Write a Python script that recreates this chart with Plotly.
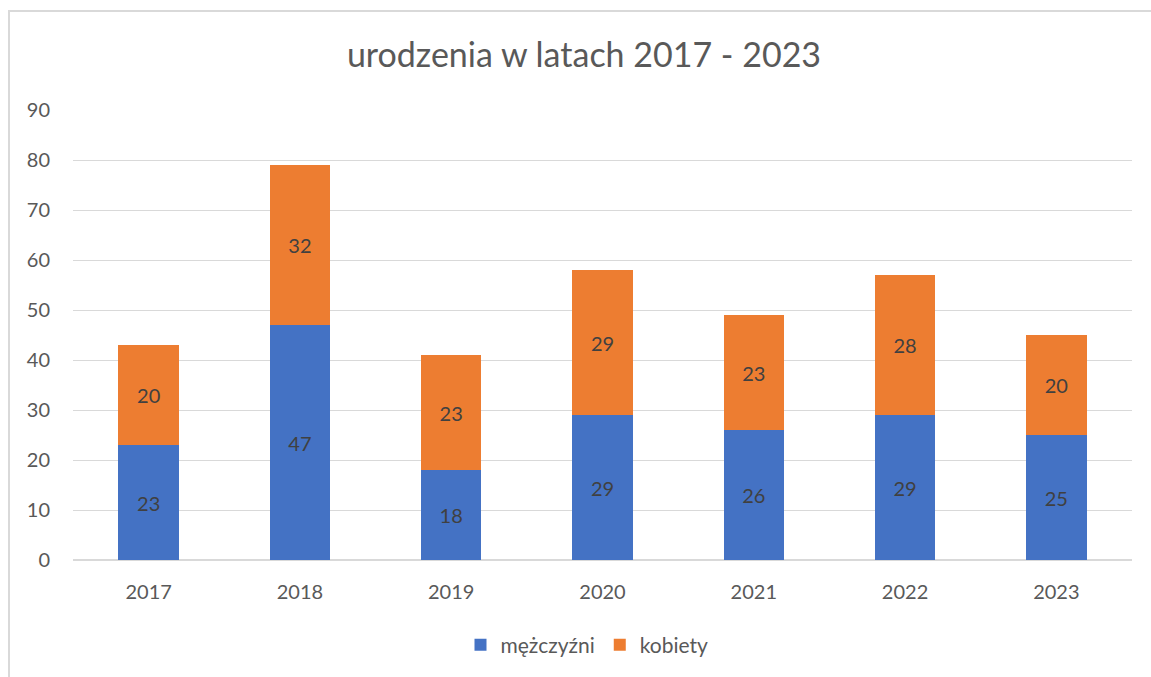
import plotly.graph_objects as go

years = ["2017", "2018", "2019", "2020", "2021", "2022", "2023"]
mezczyzni = [23, 47, 18, 29, 26, 29, 25]
kobiety = [20, 32, 23, 29, 23, 28, 20]
y_ticks = [0, 10, 20, 30, 40, 50, 60, 70, 80, 90]

FONT = "Lato, Calibri, sans-serif"
W, H = 1151, 677
L, R, T, B = 73, 19, 110, 117
pw = W - L - R
ph = H - T - B

def px_x(x):
    return (x - L) / pw

def px_y(y):
    return (H - B - y) / ph

fig = go.Figure()
fig.add_trace(go.Bar(
    x=years, y=mezczyzni, name="mężczyźni",
    marker=dict(color="#4472C4", line=dict(width=0)),
    text=mezczyzni, textposition="inside", insidetextanchor="middle",
    textangle=0, textfont=dict(size=20, color="#404040", family=FONT),
))
fig.add_trace(go.Bar(
    x=years, y=kobiety, name="kobiety",
    marker=dict(color="#ED7D31", line=dict(width=0)),
    text=kobiety, textposition="inside", insidetextanchor="middle",
    textangle=0, textfont=dict(size=20, color="#404040", family=FONT),
))

fig.update_layout(
    barmode="stack",
    bargap=0.6,
    width=W, height=H,
    margin=dict(l=L, r=R, t=T, b=B, autoexpand=False),
    paper_bgcolor="white",
    plot_bgcolor="white",
    font=dict(family=FONT, color="#595959", size=20),
    title=dict(
        text="urodzenia w latach 2017 - 2023",
        font=dict(size=34, color="#595959", family=FONT),
        x=px_x(584), xref="paper", xanchor="center",
        y=1 - 55 / H, yref="container", yanchor="middle",
    ),
    legend=dict(
        orientation="h",
        x=px_x(587), xanchor="center",
        y=px_y(645), yanchor="middle",
        font=dict(size=21, color="#595959", family=FONT),
        itemsizing="constant",
        traceorder="normal",
    ),
    xaxis=dict(
        showgrid=False, showline=False, ticks="",
        tickfont=dict(size=20, color="#595959"),
        ticklabelstandoff=18,
    ),
    yaxis=dict(
        range=[0, 90], tickvals=y_ticks,
        showgrid=True, gridcolor="#d9d9d9", gridwidth=1,
        zeroline=True, zerolinecolor="#d9d9d9", zerolinewidth=2,
        showline=False, ticks="",
        tickfont=dict(size=20, color="#595959"),
        ticklabelstandoff=22,
    ),
    shapes=[dict(
        type="rect", xref="paper", yref="paper",
        x0=px_x(9), x1=px_x(1160), y0=px_y(11), y1=px_y(690),
        line=dict(color="#d9d9d9", width=2), fillcolor="rgba(0,0,0,0)",
        layer="below",
    )],
)

fig.write_html(
    "out.html",
    config={"displayModeBar": False},
    post_script="document.body.style.margin='0';document.body.style.padding='0';",
)
